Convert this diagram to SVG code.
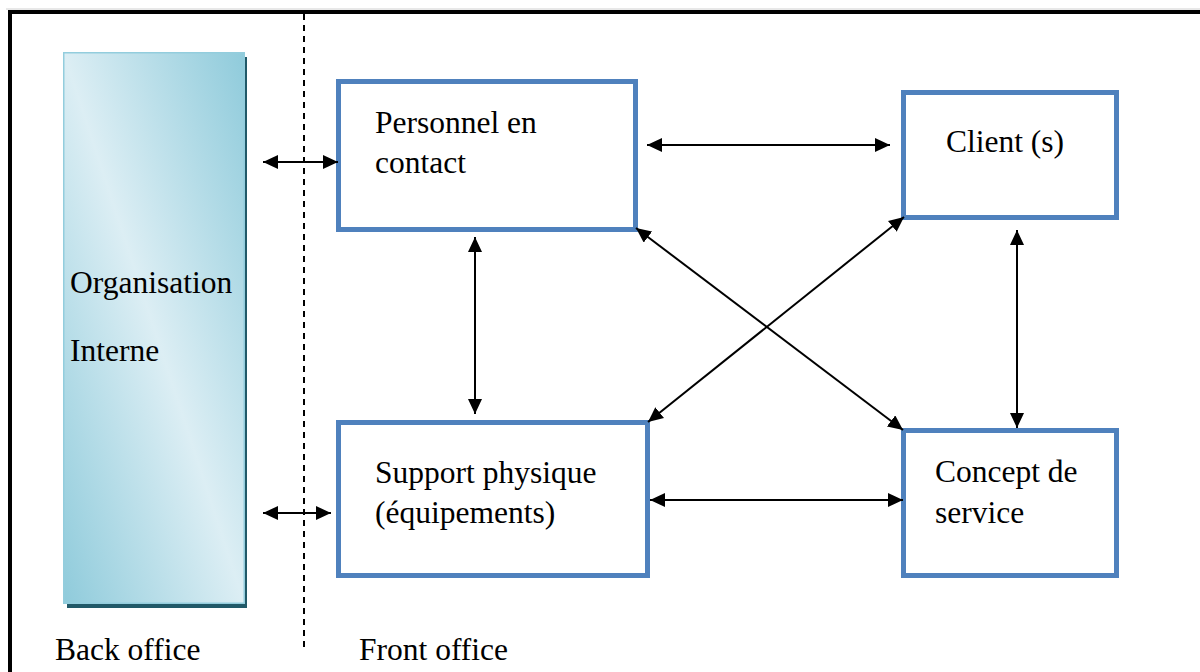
<svg xmlns="http://www.w3.org/2000/svg" width="1200" height="672" viewBox="0 0 1200 672">
  <defs>
    <linearGradient id="orgFill" x1="1" y1="0" x2="0" y2="1">
      <stop offset="0" stop-color="#8fcbdb"/>
      <stop offset="0.5" stop-color="#dceef4"/>
      <stop offset="1" stop-color="#8fcbdb"/>
    </linearGradient>
    <marker id="head" markerUnits="userSpaceOnUse" markerWidth="16" markerHeight="14" refX="15" refY="7" orient="auto-start-reverse">
      <path d="M0,0 L15,7 L0,14 Z" fill="#000"/>
    </marker>
    <style>
      .lbl { font-family: "Liberation Serif", "Times New Roman", serif; font-size: 31.5px; fill: #000; }
      .box { fill: #fff; stroke: #4f81bd; stroke-width: 5; }
      .arrow { stroke: #000; stroke-width: 2; fill: none; marker-start: url(#head); marker-end: url(#head); }
    </style>
  </defs>

  <rect width="1200" height="672" fill="#fff"/>

  <!-- page frame -->
  <g id="frame">
    <line x1="6" y1="9" x2="1200" y2="9" stroke="#d0d0d0" stroke-width="1"/>
    <line x1="8" y1="12" x2="1200" y2="12" stroke="#000" stroke-width="4"/>
    <line x1="10" y1="10" x2="10" y2="672" stroke="#000" stroke-width="4"/>
    <line x1="304" y1="14" x2="304" y2="648" stroke="#000" stroke-width="2" stroke-dasharray="6 5"/>
  </g>

  <!-- back office column -->
  <g id="organisation">
    <rect x="67" y="57" width="180" height="551" fill="#215968"/>
    <rect x="63.75" y="52.75" width="180.5" height="550.5" fill="url(#orgFill)" stroke="#93cddd" stroke-width="1.5"/>
    <text class="lbl" x="70" y="293">Organisation</text>
    <text class="lbl" x="70" y="361">Interne</text>
  </g>

  <g id="personnel">
    <rect class="box" x="338.5" y="81.5" width="297" height="148"/>
    <text class="lbl" x="375" y="133">Personnel en</text>
    <text class="lbl" x="375" y="173">contact</text>
  </g>

  <g id="client">
    <rect class="box" x="903.5" y="92.5" width="213" height="125"/>
    <text class="lbl" x="946" y="152">Client (s)</text>
  </g>

  <g id="support">
    <rect class="box" x="338.5" y="422.5" width="309" height="153"/>
    <text class="lbl" x="375" y="483">Support physique</text>
    <text class="lbl" x="375" y="523">(équipements)</text>
  </g>

  <g id="concept">
    <rect class="box" x="903.5" y="430.5" width="213" height="145"/>
    <text class="lbl" x="935" y="482">Concept de</text>
    <text class="lbl" x="935" y="523">service</text>
  </g>

  <g id="captions">
    <text class="lbl" x="55" y="660" font-size="30">Back office</text>
    <text class="lbl" x="359" y="660" font-size="30">Front office</text>
  </g>

  <!-- two-way links -->
  <g id="connectors">
    <line class="arrow" x1="263" y1="162" x2="338" y2="162"/>
    <line class="arrow" x1="263" y1="513" x2="331" y2="513"/>
    <line class="arrow" x1="647" y1="145" x2="890" y2="145"/>
    <line class="arrow" x1="475" y1="237" x2="475" y2="414"/>
    <line class="arrow" x1="1017" y1="230" x2="1017" y2="428"/>
    <line class="arrow" x1="650" y1="500" x2="903" y2="500"/>
    <line class="arrow" x1="636" y1="228" x2="903" y2="430"/>
    <line class="arrow" x1="904" y1="217" x2="648" y2="422"/>
  </g>
</svg>
